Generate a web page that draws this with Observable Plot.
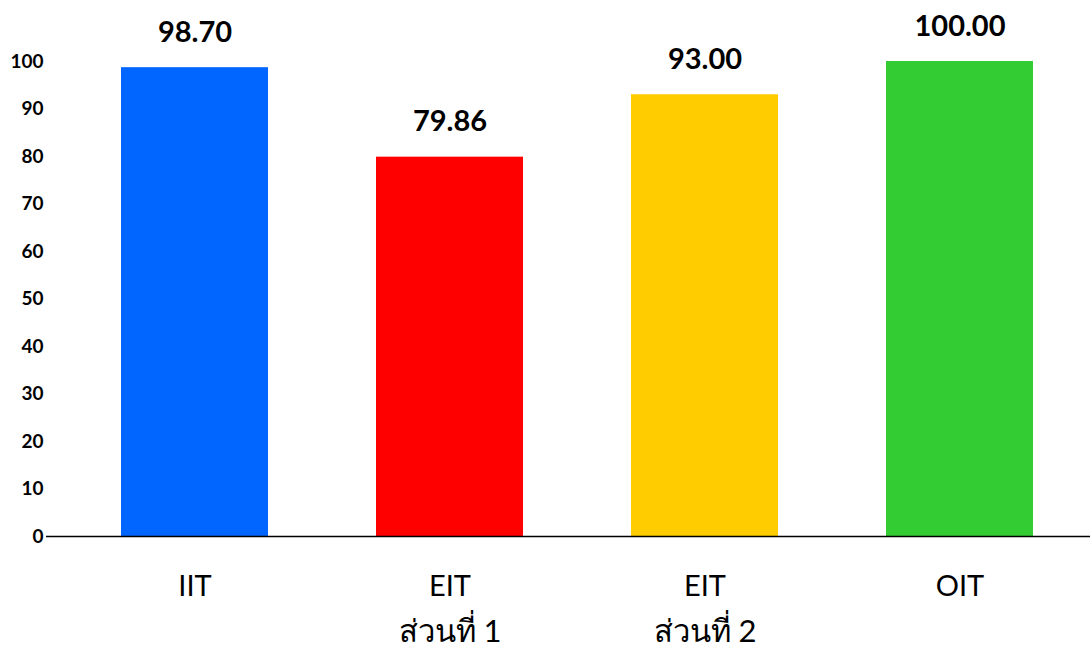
<!DOCTYPE html>
<html>
<head>
<meta charset="utf-8">
<script src="https://cdn.jsdelivr.net/npm/d3@7"></script>
<script src="https://cdn.jsdelivr.net/npm/@observablehq/plot@0.6"></script>
<style>
  html, body { margin: 0; padding: 0; background: #fff; }
  #chart svg { display: block; overflow: visible; }
</style>
</head>
<body>
<div id="chart"></div>
<script>
const categories = ["IIT", "EIT1", "EIT2", "OIT"];
const labelLine1 = ["IIT", "EIT", "EIT", "OIT"];
const labelLine2 = ["", "ส่วนที่ 1", "ส่วนที่ 2", ""];
const values = [98.70, 79.86, 93.00, 100.00];
const valueLabels = ["98.70", "79.86", "93.00", "100.00"];
const colors = ["#0066FF", "#FF0000", "#FFCC00", "#33CC33"];
const yTicks = [0, 10, 20, 30, 40, 50, 60, 70, 80, 90, 100];

const data = categories.map((c, i) => ({
  cat: c, value: values[i], label: valueLabels[i], color: colors[i],
  l1: labelLine1[i], l2: labelLine2[i]
}));

const chart = Plot.plot({
  width: 1090,
  height: 649,
  marginLeft: 46,
  marginRight: 0,
  marginTop: 61,
  marginBottom: 113,
  style: {fontFamily: "Lato, 'Noto Sans', sans-serif", background: "#fff", overflow: "visible"},
  x: {domain: categories, range: [121, 1033.6], paddingInner: 0.424, paddingOuter: 0, label: null, axis: null},
  y: {domain: [0, 100], label: null},
  marks: [
    Plot.barY(data, {x: "cat", y: "value", fill: "color"}),
    Plot.ruleY([0], {stroke: "#000", strokeWidth: 1.5}),
    Plot.axisY({ticks: yTicks, tickSize: 0, tickPadding: 3, fontSize: 19, fontWeight: "bold", label: null}),
    Plot.text(data, {x: "cat", text: "l1", frameAnchor: "bottom", dy: 50, lineAnchor: "middle", fontSize: 29, fill: "#000"}),
    Plot.text(data, {x: "cat", text: "l2", frameAnchor: "bottom", dy: 96, lineAnchor: "middle", fontSize: 31, fill: "#000"}),
    Plot.text(data, {x: "cat", y: "value", text: "label", lineAnchor: "bottom", dy: -26, fontSize: 29, fontWeight: "bold", fill: "#000"})
  ]
});
document.getElementById("chart").appendChild(chart);
</script>
</body>
</html>
